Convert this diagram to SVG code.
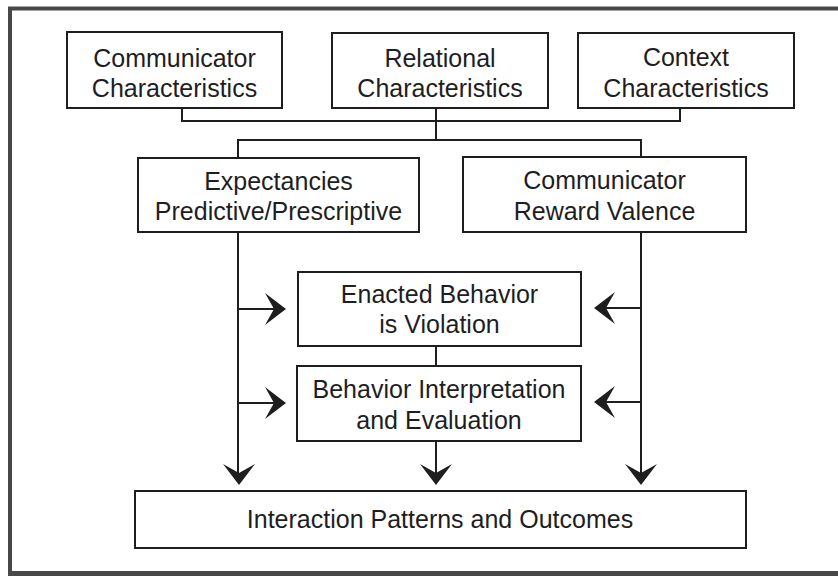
<svg xmlns="http://www.w3.org/2000/svg" width="838" height="576" viewBox="0 0 838 576">
<style>
.box{fill:#fff;stroke:#1e1e1e;stroke-width:2}
.ln{fill:none;stroke:#1e1e1e;stroke-width:2}
.t{font-family:"Liberation Sans",Arial,sans-serif;font-size:25px;fill:#1e1e1e;text-anchor:middle}
.ah{fill:#1e1e1e}
</style>
<defs>
<path id="ah" d="M0,0 L-21,-16 L-12,0 L-21,16 Z"/>
</defs>
<rect x="0" y="0" width="838" height="576" fill="#fff"/>
<path d="M10,576 V8.5 H838" fill="none" stroke="#484848" stroke-width="4"/>
<rect x="8" y="571" width="830" height="5" fill="#484848"/>
<g id="connectors">
<path class="ln" d="M182,108 V121 H680 V108"/>
<path class="ln" d="M436,108 V140"/>
<path class="ln" d="M238,158 V140 H641 V157"/>
<path class="ln" d="M238,232 V478"/>
<path class="ln" d="M641,232 V478"/>
<path class="ln" d="M238,309 H278"/>
<path class="ln" d="M238,403 H278"/>
<path class="ln" d="M641,308 H602"/>
<path class="ln" d="M641,402 H602"/>
<path class="ln" d="M436,346 V366"/>
<path class="ln" d="M436,441 V478"/>
<use href="#ah" class="ah" transform="translate(286,309)"/>
<use href="#ah" class="ah" transform="translate(286,403)"/>
<use href="#ah" class="ah" transform="translate(594,308) rotate(180)"/>
<use href="#ah" class="ah" transform="translate(594,402) rotate(180)"/>
<use href="#ah" class="ah" transform="translate(239,485) rotate(90)"/>
<use href="#ah" class="ah" transform="translate(436,485) rotate(90)"/>
<use href="#ah" class="ah" transform="translate(641,485) rotate(90)"/>
</g>
<g id="communicator-characteristics">
<rect class="box" x="67" y="32" width="215" height="76"/>
<text class="t" x="174.5" y="67">Communicator</text>
<text class="t" x="174.5" y="97">Characteristics</text>
</g>
<g id="relational-characteristics">
<rect class="box" x="332" y="33" width="216" height="75"/>
<text class="t" x="440" y="67">Relational</text>
<text class="t" x="440" y="97">Characteristics</text>
</g>
<g id="context-characteristics">
<rect class="box" x="578" y="33" width="216" height="75"/>
<text class="t" x="686" y="66">Context</text>
<text class="t" x="686" y="97">Characteristics</text>
</g>
<g id="expectancies">
<rect class="box" x="138" y="158" width="281" height="74"/>
<text class="t" x="278.5" y="190">Expectancies</text>
<text class="t" x="278.5" y="220">Predictive/Prescriptive</text>
</g>
<g id="reward-valence">
<rect class="box" x="463" y="157" width="283" height="75"/>
<text class="t" x="604.5" y="189">Communicator</text>
<text class="t" x="604.5" y="220">Reward Valence</text>
</g>
<g id="enacted-behavior">
<rect class="box" x="298" y="272" width="283" height="74"/>
<text class="t" x="439.5" y="303">Enacted Behavior</text>
<text class="t" x="439.5" y="333">is Violation</text>
</g>
<g id="interpretation">
<rect class="box" x="297" y="366" width="284" height="75"/>
<text class="t" x="439" y="398">Behavior Interpretation</text>
<text class="t" x="439" y="429">and Evaluation</text>
</g>
<g id="outcomes">
<rect class="box" x="135" y="491" width="611" height="57"/>
<text class="t" x="440" y="528">Interaction Patterns and Outcomes</text>
</g>
</svg>
